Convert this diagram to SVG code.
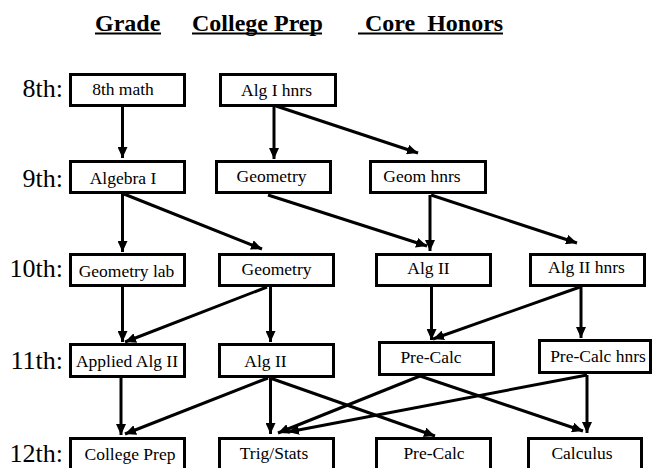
<svg xmlns="http://www.w3.org/2000/svg" width="653" height="468" viewBox="0 0 653 468">
<defs>
<marker id="ah" markerUnits="userSpaceOnUse" markerWidth="11" markerHeight="10" refX="11" refY="5" orient="auto">
<path d="M0,0 L11,5 L0,10 z" fill="#000"/>
</marker>
<style>
.box{fill:#fff;stroke:#000;stroke-width:3}
.t{font-family:"Liberation Serif","Times New Roman",serif;font-size:17.5px;fill:#000;text-anchor:middle}
.lbl{font-family:"Liberation Serif","Times New Roman",serif;font-size:26px;fill:#000;text-anchor:end}
.hd{font-family:"Liberation Serif","Times New Roman",serif;font-size:24px;font-weight:bold;fill:#000}
.ul{stroke:#000;stroke-width:2}
.c{stroke:#000;stroke-width:3;fill:none;marker-end:url(#ah)}
</style>
</defs>
<rect width="653" height="468" fill="#fff"/>
<g id="header">
<text class="hd" x="95" y="31">Grade</text>
<text class="hd" x="192" y="31">College Prep</text>
<text class="hd" x="365" y="31" xml:space="preserve">Core  Honors</text>
<line class="ul" x1="95" y1="33.5" x2="161" y2="33.5"/>
<line class="ul" x1="192" y1="33.5" x2="322" y2="33.5"/>
<line class="ul" x1="358" y1="33.5" x2="503" y2="33.5"/>
</g>
<g id="grade-labels">
<text class="lbl" x="63" y="97">8th:</text>
<text class="lbl" x="63" y="187">9th:</text>
<text class="lbl" x="63" y="277">10th:</text>
<text class="lbl" x="63" y="369">11th:</text>
<text class="lbl" x="63" y="462">12th:</text>
</g>
<g id="connectors">
<line class="c" x1="122.5" y1="106" x2="122.5" y2="158"/>
<line class="c" x1="274" y1="106" x2="274" y2="159"/>
<line class="c" x1="276" y1="106" x2="418" y2="153"/>
<line class="c" x1="122.5" y1="194" x2="122.5" y2="252"/>
<line class="c" x1="124" y1="194" x2="262" y2="249"/>
<line class="c" x1="268" y1="195" x2="427" y2="246"/>
<line class="c" x1="430" y1="195" x2="430" y2="251"/>
<line class="c" x1="431" y1="195" x2="577" y2="243"/>
<line class="c" x1="122.5" y1="287" x2="122.5" y2="342"/>
<line class="c" x1="267" y1="287" x2="125" y2="342"/>
<line class="c" x1="270.5" y1="287" x2="270.5" y2="342"/>
<line class="c" x1="431.5" y1="287" x2="431.5" y2="340"/>
<line class="c" x1="580" y1="287" x2="433" y2="339"/>
<line class="c" x1="581" y1="287" x2="581" y2="338"/>
<line class="c" x1="121" y1="378" x2="121" y2="435"/>
<line class="c" x1="268" y1="378" x2="125" y2="434"/>
<line class="c" x1="270.5" y1="378" x2="270.5" y2="434"/>
<line class="c" x1="270" y1="378" x2="435" y2="436"/>
<line class="c" x1="420" y1="376" x2="278" y2="433"/>
<line class="c" x1="420" y1="376" x2="583" y2="431"/>
<line class="c" x1="587" y1="375" x2="288" y2="432"/>
<line class="c" x1="587" y1="375" x2="587" y2="433"/>
</g>
<g id="n-8th-math"><rect class="box" x="70.5" y="74.5" width="114" height="31"/><text class="t" x="123" y="95">8th math</text></g>
<g id="n-alg1-hnrs"><rect class="box" x="220.5" y="74.5" width="115" height="31"/><text class="t" x="276.5" y="96">Alg I hnrs</text></g>
<g id="n-algebra1"><rect class="box" x="70.5" y="161.5" width="114" height="31"/><text class="t" x="123" y="184">Algebra I</text></g>
<g id="n-geometry9"><rect class="box" x="216.5" y="161.5" width="114" height="31"/><text class="t" x="271.5" y="182">Geometry</text></g>
<g id="n-geom-hnrs"><rect class="box" x="370.5" y="161.5" width="115" height="31"/><text class="t" x="422" y="182">Geom hnrs</text></g>
<g id="n-geometry-lab"><rect class="box" x="70.5" y="254.5" width="114" height="31"/><text class="t" x="126.5" y="277">Geometry lab</text></g>
<g id="n-geometry10"><rect class="box" x="219.5" y="254.5" width="114" height="31"/><text class="t" x="276.5" y="275">Geometry</text></g>
<g id="n-alg2-10"><rect class="box" x="376.5" y="254.5" width="114" height="31"/><text class="t" x="428.5" y="274">Alg II</text></g>
<g id="n-alg2-hnrs"><rect class="box" x="530.5" y="254.5" width="114" height="31"/><text class="t" x="586.5" y="273">Alg II hnrs</text></g>
<g id="n-applied-alg2"><rect class="box" x="70.5" y="344.5" width="114" height="32"/><text class="t" x="127" y="367">Applied Alg II</text></g>
<g id="n-alg2-11"><rect class="box" x="219.5" y="344.5" width="114" height="32"/><text class="t" x="265.5" y="367">Alg II</text></g>
<g id="n-precalc11"><rect class="box" x="379.5" y="342.5" width="114" height="32"/><text class="t" x="431" y="363">Pre-Calc</text></g>
<g id="n-precalc-hnrs"><rect class="box" x="539.5" y="340.5" width="111" height="32"/><text class="t" x="598" y="362">Pre-Calc hnrs</text></g>
<g id="n-college-prep"><rect class="box" x="70.5" y="438.5" width="114" height="40"/><text class="t" x="130" y="460">College Prep</text></g>
<g id="n-trig-stats"><rect class="box" x="219.5" y="438.5" width="114" height="40"/><text class="t" x="274" y="459">Trig/Stats</text></g>
<g id="n-precalc12"><rect class="box" x="376.5" y="438.5" width="114" height="40"/><text class="t" x="434" y="459">Pre-Calc</text></g>
<g id="n-calculus"><rect class="box" x="528.5" y="438.5" width="113" height="40"/><text class="t" x="582" y="459">Calculus</text></g>
</svg>
